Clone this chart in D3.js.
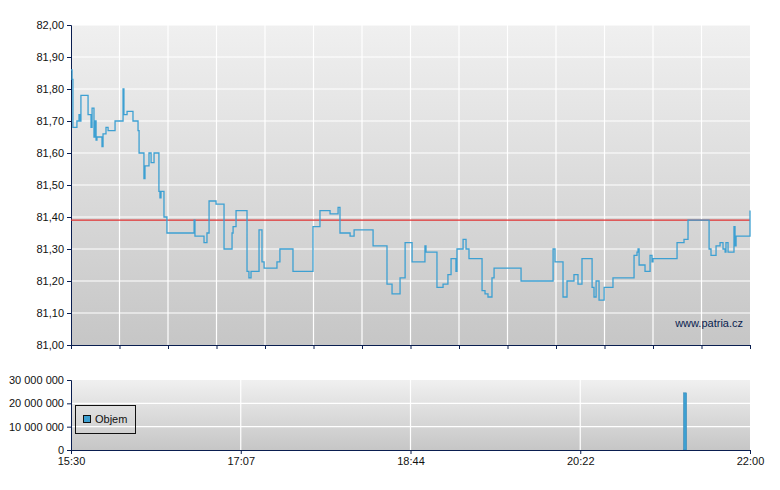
<!DOCTYPE html><html><head><meta charset="utf-8">
<script src="https://cdn.jsdelivr.net/npm/d3@7"></script>
<style>body{margin:0;background:#fff}text{font-family:"Liberation Sans",Arial,sans-serif;font-size:11px;fill:#111}</style>
</head><body><svg id="c" width="780" height="490"></svg><script>
const priceMinutes=[0,0.6,1.1,3.4,4.6,5.2,5.7,9.8,11.5,12.1,13.2,13.8,14.4,14.9,16.1,17.8,18.4,20.1,21.3,25.3,29.9,30.4,32.2,35.6,38.5,39.1,41.9,42.5,44.8,46.0,47.7,50.5,51.1,51.7,53.4,55.1,70.7,71.2,76.4,78.1,79.3,83.3,87.9,92.5,93.1,94.8,101.1,102.2,103.4,108.0,109.7,110.9,118.3,120.0,127.5,139.0,143.0,148.8,153.4,154.5,160.3,162.6,173.5,181.5,184.4,189.0,191.9,195.9,203.3,203.9,210.2,213.7,216.5,218.3,221.1,221.7,225.2,226.9,228.6,236.1,237.8,239.5,241.8,243.0,258.5,276.9,278.0,282.6,284.9,288.9,291.2,293.5,299.3,300.4,301.6,303.3,306.2,311.3,323.4,325.1,325.7,326.3,329.7,332.6,333.7,334.3,348.1,352.1,354.4,366.5,367.6,370.5,372.8,374.5,375.7,376.2,377.4,380.8,381.4,382.0,390];
const priceValues=[81.86,81.83,81.68,81.70,81.72,81.70,81.78,81.72,81.68,81.74,81.65,81.70,81.64,81.65,81.65,81.62,81.66,81.68,81.67,81.70,81.80,81.72,81.73,81.70,81.67,81.60,81.52,81.56,81.60,81.57,81.60,81.48,81.46,81.48,81.40,81.35,81.39,81.34,81.32,81.35,81.45,81.44,81.30,81.35,81.37,81.42,81.23,81.21,81.23,81.36,81.26,81.24,81.26,81.30,81.23,81.37,81.42,81.41,81.43,81.35,81.34,81.36,81.31,81.19,81.16,81.21,81.32,81.26,81.31,81.29,81.18,81.19,81.22,81.27,81.23,81.30,81.33,81.30,81.27,81.17,81.16,81.15,81.21,81.24,81.20,81.30,81.26,81.15,81.20,81.22,81.19,81.27,81.18,81.15,81.20,81.14,81.18,81.21,81.28,81.29,81.30,81.25,81.23,81.28,81.26,81.27,81.32,81.33,81.39,81.30,81.28,81.31,81.32,81.30,81.29,81.32,81.29,81.37,81.31,81.34,81.42];
const refPrice=81.39;
const volMinutes=[352.7];
const volValues=[24500000];
const priceTicks=[81.0,81.1,81.2,81.3,81.4,81.5,81.6,81.7,81.8,81.9,82.0];
const timeLabels=["15:30","17:07","18:44","20:22","22:00"];
const volTicks=[0,10000000,20000000,30000000];

const svg=d3.select("#c");
const L=71,R=750;
const x=d3.scaleLinear().domain([0,390]).range([L,R]);
const y=d3.scaleLinear().domain([81,82]).range([345,25]);
const yv=d3.scaleLinear().domain([0,30000000]).range([450,380]);
const defs=svg.append("defs");
const g=defs.append("linearGradient").attr("id","bg").attr("x1",0).attr("y1",0).attr("x2",0).attr("y2",1);
g.append("stop").attr("offset",0).attr("stop-color","#f0f0f0");
g.append("stop").attr("offset",1).attr("stop-color","#c6c6c6");
svg.append("rect").attr("x",L).attr("y",25).attr("width",R-L).attr("height",320).attr("fill","url(#bg)");
svg.append("rect").attr("x",L).attr("y",380).attr("width",R-L).attr("height",70).attr("fill","url(#bg)");
const fmt=d3.format(".2f");
const vfmt=v=>d3.format(",")(v).replace(/,/g," ");
// grid main
const vgrid=d3.range(1,14).map(i=>i*390/14);
svg.append("g").selectAll("line").data(vgrid).join("line").attr("x1",d=>x(d)).attr("x2",d=>x(d)).attr("y1",25).attr("y2",345).attr("stroke","#fff").attr("stroke-width",1.2);
svg.append("g").selectAll("line").data(priceTicks.slice(1)).join("line").attr("x1",L).attr("x2",R).attr("y1",d=>y(d)).attr("y2",d=>y(d)).attr("stroke","#fff").attr("stroke-width",1.2);
// axes main
svg.append("g").attr("transform",`translate(${L},0)`).call(d3.axisLeft(y).tickValues(priceTicks).tickFormat(d=>fmt(d).replace(".",",")).tickSize(4)).call(a=>{a.select(".domain").attr("stroke","#0a1e50");a.selectAll("line").attr("stroke","#0a1e50");a.selectAll("text").attr("fill","#111").style("font-size","11px").style("font-family","Liberation Sans, Arial")});
svg.append("g").attr("transform","translate(0,345)").call(d3.axisBottom(x).tickValues(d3.range(0,15).map(i=>i*390/14)).tickFormat("").tickSize(4)).call(a=>{a.select(".domain").attr("stroke","#0a1e50");a.selectAll("line").attr("stroke","#0a1e50")});
// ref line
svg.append("line").attr("x1",L).attr("x2",R).attr("y1",y(refPrice)).attr("y2",y(refPrice)).attr("stroke","#e03030").attr("stroke-width",1.2);
// price line
const pts=priceMinutes.map((m,i)=>[m,priceValues[i]]);
svg.append("path").datum(pts).attr("fill","none").attr("stroke","#3da0d2").attr("stroke-width",1.3)
 .attr("d",d3.line().x(d=>x(d[0])).y(d=>y(d[1])).curve(d3.curveStepAfter));
svg.append("text").attr("x",743).attr("y",327).attr("text-anchor","end").attr("fill","#0a1e50").style("fill","#0a1e50").text("www.patria.cz");
// volume
const vlab=[0,97.5,195,292.5,390];
svg.append("g").selectAll("line").data(vlab.slice(1,4)).join("line").attr("x1",d=>x(d)).attr("x2",d=>x(d)).attr("y1",380).attr("y2",450).attr("stroke","#fff").attr("stroke-width",1.2);
svg.append("g").selectAll("line").data(volTicks.slice(1,3)).join("line").attr("x1",L).attr("x2",R).attr("y1",d=>yv(d)).attr("y2",d=>yv(d)).attr("stroke","#fff").attr("stroke-width",1.2);
svg.append("g").selectAll("rect").data(volMinutes).join("rect").attr("x",d=>x(d)-1.5).attr("width",3).attr("y",(d,i)=>yv(volValues[i])).attr("height",(d,i)=>450-yv(volValues[i])).attr("fill","#3da0d2").attr("stroke","#2a7fb0").attr("stroke-width",0.5);
svg.append("g").attr("transform",`translate(${L},0)`).call(d3.axisLeft(yv).tickValues(volTicks).tickFormat(vfmt).tickSize(4)).call(a=>{a.select(".domain").attr("stroke","#0a1e50");a.selectAll("line").attr("stroke","#0a1e50");a.selectAll("text").attr("fill","#111").style("font-size","11px").style("font-family","Liberation Sans, Arial")});
svg.append("g").attr("transform","translate(0,450)").call(d3.axisBottom(x).tickValues(vlab).tickFormat((d,i)=>timeLabels[i]).tickSize(4)).call(a=>{a.select(".domain").attr("stroke","#0a1e50");a.selectAll("line").attr("stroke","#0a1e50");a.selectAll("text").attr("fill","#111").style("font-size","11px").style("font-family","Liberation Sans, Arial")});
// legend
svg.append("rect").attr("x",75.5).attr("y",405.5).attr("width",60).attr("height",28).attr("fill","none").attr("stroke","#111");
svg.append("rect").attr("x",83.5).attr("y",415.5).attr("width",7).attr("height",7).attr("fill","#3da0d2").attr("stroke","#111");
svg.append("text").attr("x",95).attr("y",423).text("Objem");
</script></body></html>
